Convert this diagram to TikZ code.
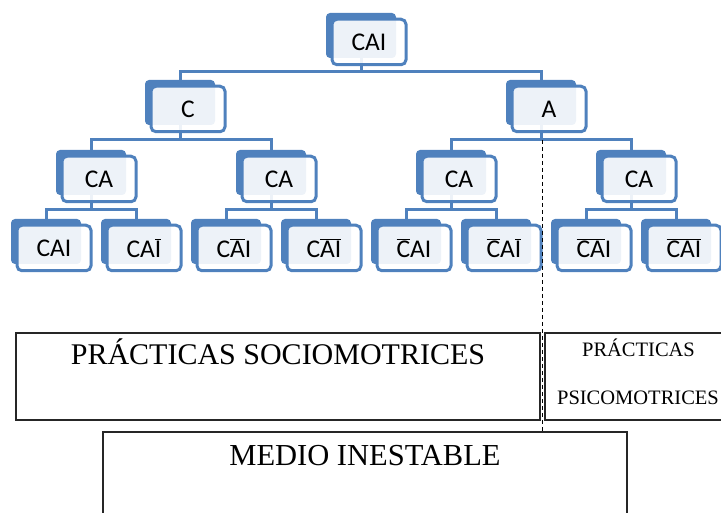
\documentclass[tikz,border=0pt]{standalone}
\usepackage{fontspec}
\setmainfont{Liberation Serif}
\newfontfamily\boxfont{Carlito}
\definecolor{orgblue}{HTML}{4F81BD}
\newcommand\ovl[1]{$\overline{\mbox{#1}}$}
\begin{document}
\begin{tikzpicture}[x=1pt,y=-1pt,
  backbox/.style={fill=orgblue, draw=none, rounded corners=4pt,
    minimum width=70pt, minimum height=45pt, inner sep=0pt},
  frontbox/.style={fill=white, fill opacity=0.9, text opacity=1,
    draw=orgblue, line width=3pt, rounded corners=5pt,
    minimum width=74pt, minimum height=45.5pt, inner sep=0pt,
    font=\boxfont\fontsize{25.5}{30}\selectfont, text=black},
  conn/.style={draw=orgblue, line width=3pt},
  plainbox/.style={draw=black!85, line width=1.2pt, inner sep=0pt},
  bigtext/.style={anchor=base, inner sep=0pt, font=\fontsize{30}{34}\selectfont},
  smalltext/.style={anchor=base, inner sep=0pt, font=\fontsize{20.5}{24}\selectfont}]
\useasboundingbox (0,0) rectangle (721,513);
\clip (0,0) rectangle (721,513);

% back (shadow) boxes of the org chart
\node[backbox] (r)  at (361,35.5) {};
\node[backbox] (c)  at (180,102.5) {};
\node[backbox] (a)  at (541,102.5) {};
\node[backbox] (ca1) at (91,172.5) {};
\node[backbox] (ca2) at (271,172.5) {};
\node[backbox] (ca3) at (451,172.5) {};
\node[backbox] (ca4) at (631,172.5) {};
\foreach \i in {1,...,8}
  \node[backbox] (l\i) at ({46+90*(\i-1)},241.5) {};

% bus lines
\coordinate (bus0) at (0,72);
\coordinate (bus1) at (0,140);
\coordinate (bus2) at (0,210);

% connectors
\foreach \ch in {c,a}
  \draw[conn] (r.south) -- (r.south |- bus0) -| (\ch.north);
\foreach \ch in {ca1,ca2}
  \draw[conn] (c.south) -- (c.south |- bus1) -| (\ch.north);
\foreach \ch in {ca3,ca4}
  \draw[conn] (a.south) -- (a.south |- bus1) -| (\ch.north);
\draw[conn] (ca1.south) -- (ca1.south |- bus2) -| (l1.north);
\draw[conn] (ca1.south) -- (ca1.south |- bus2) -| (l2.north);
\draw[conn] (ca2.south) -- (ca2.south |- bus2) -| (l3.north);
\draw[conn] (ca2.south) -- (ca2.south |- bus2) -| (l4.north);
\draw[conn] (ca3.south) -- (ca3.south |- bus2) -| (l5.north);
\draw[conn] (ca3.south) -- (ca3.south |- bus2) -| (l6.north);
\draw[conn] (ca4.south) -- (ca4.south |- bus2) -| (l7.north);
\draw[conn] (ca4.south) -- (ca4.south |- bus2) -| (l8.north);

% front boxes with labels
\node[frontbox] (rf)  at ([shift={(8,6.5)}]r.center) {CAI};
\node[frontbox] (cf)  at ([shift={(8,6.5)}]c.center) {C};
\node[frontbox] (af)  at ([shift={(8,6.5)}]a.center) {A};
\node[frontbox] (ca1f) at ([shift={(8,6.5)}]ca1.center) {CA};
\node[frontbox] (ca2f) at ([shift={(8,6.5)}]ca2.center) {CA};
\node[frontbox] (ca3f) at ([shift={(8,6.5)}]ca3.center) {CA};
\node[frontbox] (ca4f) at ([shift={(8,6.5)}]ca4.center) {CA};
\node[frontbox] (l1f) at ([shift={(8,6.5)}]l1.center) {CAI};
\node[frontbox] (l2f) at ([shift={(8,6.5)}]l2.center) {CA\ovl{I}};
\node[frontbox] (l3f) at ([shift={(8,6.5)}]l3.center) {C\ovl{A}I};
\node[frontbox] (l4f) at ([shift={(8,6.5)}]l4.center) {C\ovl{AI}};
\node[frontbox] (l5f) at ([shift={(8,6.5)}]l5.center) {\ovl{C}AI};
\node[frontbox] (l6f) at ([shift={(8,6.5)}]l6.center) {\ovl{C}A\ovl{I}};
\node[frontbox] (l7f) at ([shift={(8,6.5)}]l7.center) {\ovl{CA}I};
\node[frontbox] (l8f) at ([shift={(8,6.5)}]l8.center) {\ovl{CAI}};

% lower framed areas
\node[plainbox, minimum width=524pt, minimum height=87pt] (socio) at (278,376.5) {};
\node[plainbox, minimum width=190pt, minimum height=87pt] (psico) at (640,376.5) {};
\node[plainbox, minimum width=524pt, minimum height=100pt] (medio) at (365,482) {};

\node[bigtext] (sociot) at (278,365) {PRÁCTICAS SOCIOMOTRICES};
\node[smalltext] (psicot1) at (638.5,357) {PRÁCTICAS};
\node[smalltext] (psicot2) at (638,404) {PSICOMOTRICES};
\node[anchor=base, inner sep=0pt, font=\fontsize{30.5}{34}\selectfont] (mediot) at (365,465) {MEDIO INESTABLE};

% dashed divider from the A branch down to the lower area
\coordinate (dtop) at (542.5,140);
\coordinate (dbot) at (542.5,433);
\draw[black, line width=1pt, dash pattern=on 4pt off 3pt] (dtop) -- (dbot);
\end{tikzpicture}
\end{document}
